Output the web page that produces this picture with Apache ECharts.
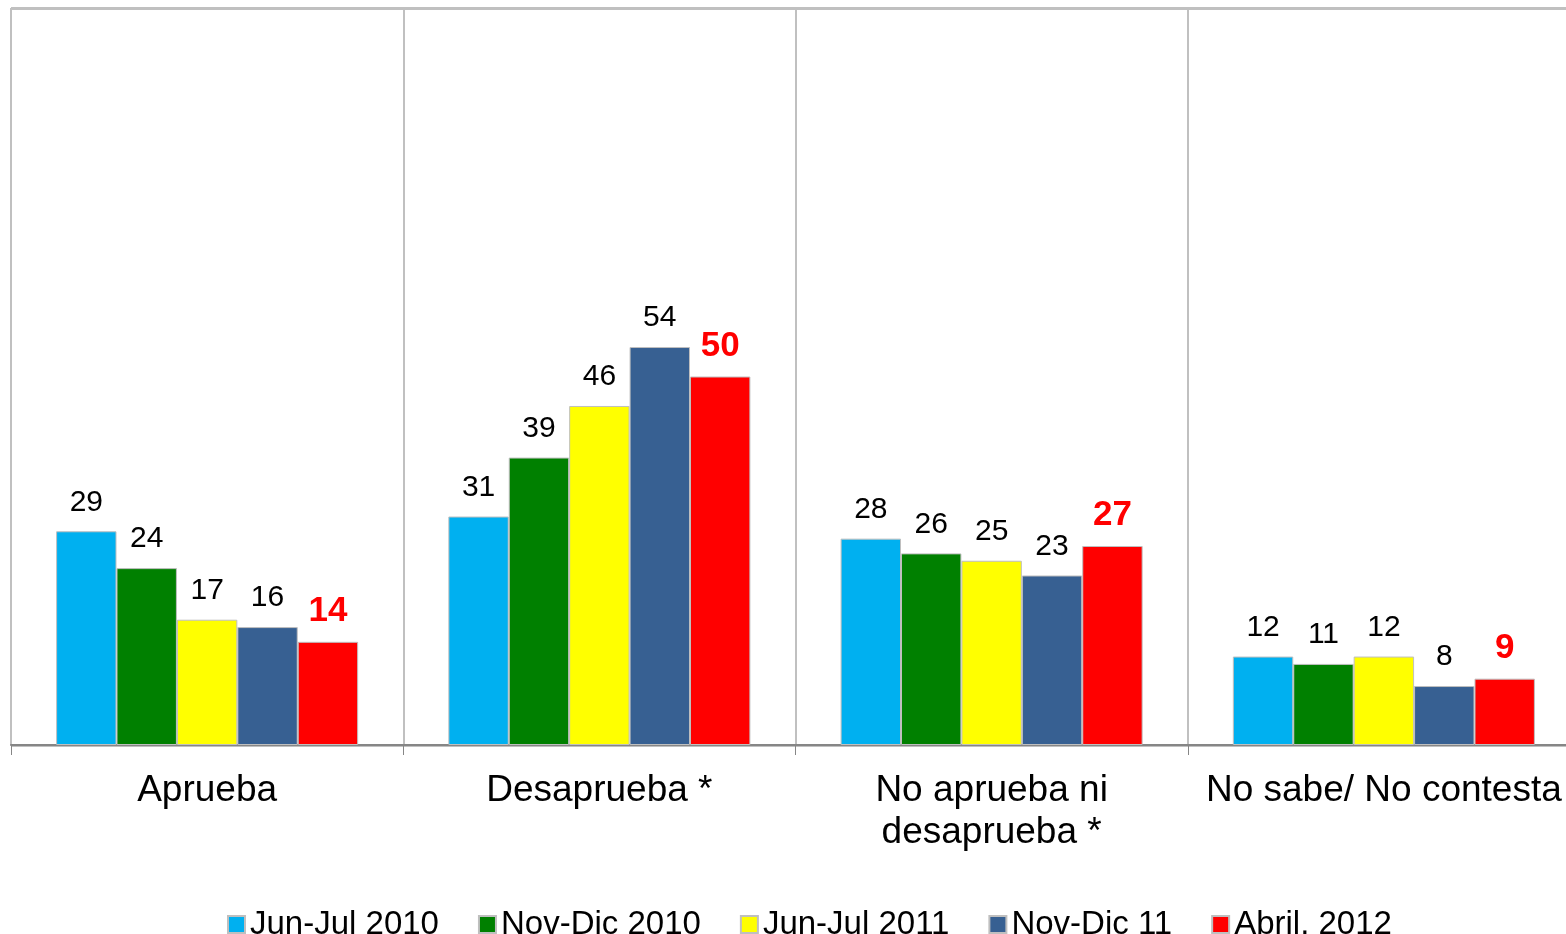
<!DOCTYPE html>
<html>
<head>
<meta charset="utf-8">
<script src="https://cdn.jsdelivr.net/npm/echarts@6/dist/echarts.min.js"></script>
<style>
  html, body { margin: 0; padding: 0; background: #fff; }
  #chart { width: 1566px; height: 934px; }
</style>
</head>
<body>
<div id="chart"></div>
<script>
const categories = ["Aprueba", "Desaprueba *", "No aprueba ni\ndesaprueba *", "No sabe/ No contesta"];
const seriesNames = ["Jun-Jul 2010", "Nov-Dic 2010", "Jun-Jul 2011", "Nov-Dic 11", "Abril. 2012"];
const junJul2010 = [29, 31, 28, 12];
const novDic2010 = [24, 39, 26, 11];
const junJul2011 = [17, 46, 25, 12];
const novDic11 = [16, 54, 23, 8];
const abril2012 = [14, 50, 27, 9];
const colors = ["#00B0F0", "#008000", "#FFFF00", "#376092", "#FF0000"];

const values = [junJul2010, novDic2010, junJul2011, novDic11, abril2012];
const font = "Liberation Sans, Arial, sans-serif";

const chart = echarts.init(document.getElementById("chart"));

const series = values.map((data, i) => {
  const last = i === values.length - 1;
  return {
    name: seriesNames[i],
    type: "bar",
    data,
    barGap: "0%",
    barCategoryGap: "23%",
    itemStyle: { color: colors[i], borderColor: "#bfbfbf", borderWidth: 1 },
    label: {
      show: true,
      position: "top",
      distance: last ? 13 : 14,
      fontFamily: font,
      fontSize: last ? 35 : 30,
      fontWeight: last ? "bold" : "normal",
      color: last ? "#FF0000" : "#000"
    }
  };
});

chart.setOption({
  animation: false,
  textStyle: { fontFamily: font },
  grid: {
    left: 11, top: 8, width: 1569, height: 737,
    containLabel: false,
    outerBoundsMode: "none"
  },
  legend: {
    top: 903,
    left: 222,
    icon: "rect",
    itemWidth: 17,
    itemHeight: 17,
    itemGap: 39,
    textStyle: { fontFamily: font, fontSize: 33, color: "#000" },
    data: seriesNames
  },
  xAxis: {
    type: "category",
    data: categories,
    axisLine: { lineStyle: { color: "#868686", width: 2 } },
    axisTick: { show: true, length: 10, lineStyle: { color: "#868686", width: 1 } },
    splitLine: { show: true, lineStyle: { color: "#c0c0c0", width: 2 } },
    axisLabel: {
      fontFamily: font,
      fontSize: 37,
      color: "#000",
      margin: 25,
      lineHeight: 42,
      interval: 0,
      hideOverlap: false
    }
  },
  yAxis: {
    type: "value",
    min: 0,
    max: 100,
    interval: 100,
    axisLabel: { show: false },
    axisLine: { show: false },
    axisTick: { show: false },
    splitLine: { show: true, lineStyle: { color: "#c0c0c0", width: 3 } }
  },
  series
});
</script>
</body>
</html>
